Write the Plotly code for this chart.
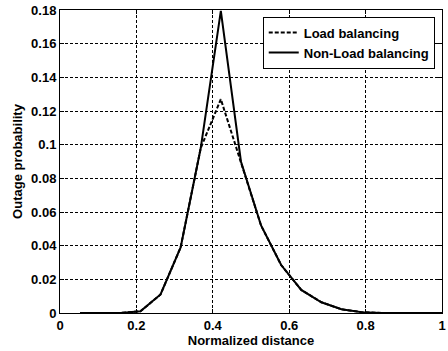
import plotly.graph_objects as go

# Data
x_vals = [i / 19 for i in range(1, 20)]
load_balancing = [0, 0, 0, 0.001, 0.011, 0.039, 0.098, 0.127, 0.090, 0.052,
                  0.0285, 0.0137, 0.0064, 0.0022, 0.0005, 0, 0, 0, 0]
non_load_balancing = [0, 0, 0, 0.001, 0.011, 0.039, 0.098, 0.1795, 0.090, 0.052,
                      0.0285, 0.0137, 0.0064, 0.0022, 0.0005, 0, 0, 0, 0]
x_ticks = [0, 0.2, 0.4, 0.6, 0.8, 1]
x_tick_labels = ["0", "0.2", "0.4", "0.6", "0.8", "1"]
y_ticks = [0, 0.02, 0.04, 0.06, 0.08, 0.1, 0.12, 0.14, 0.16, 0.18]
y_tick_labels = ["0", "0.02", "0.04", "0.06", "0.08", "0.1", "0.12", "0.14", "0.16", "0.18"]

FONT = "Liberation Sans, Arial, sans-serif"
FS = 13

fig = go.Figure()
fig.add_trace(go.Scatter(x=x_vals, y=load_balancing, mode="lines",
                         name="<b>Load balancing</b>",
                         line=dict(color="black", width=2, dash="4px,2px")))
fig.add_trace(go.Scatter(x=x_vals, y=non_load_balancing, mode="lines",
                         name="<b>Non-Load balancing</b>",
                         line=dict(color="black", width=2)))

axis_common = dict(
    showline=True, linecolor="black", linewidth=1, mirror="ticks",
    ticks="inside", ticklen=4, tickcolor="black",
    showgrid=True, gridcolor="black", gridwidth=1, griddash="3px,2px",
    zeroline=False, automargin=False,
    tickfont=dict(family=FONT, size=FS, color="black", weight="bold"),
)

fig.update_xaxes(range=[0, 1], tickvals=x_ticks, ticktext=x_tick_labels,
                 title=dict(text="<b>Normalized distance</b>", standoff=1,
                            font=dict(family=FONT, size=FS, color="black")),
                 **axis_common)
fig.update_yaxes(range=[0, 0.18], tickvals=y_ticks, ticktext=y_tick_labels,
                 title=dict(text="<b>Outage probability</b>", standoff=5,
                            font=dict(family=FONT, size=FS, color="black")),
                 **axis_common)

fig.update_layout(
    width=448, height=351,
    margin=dict(l=60, r=6, t=10, b=38, autoexpand=False),
    paper_bgcolor="white", plot_bgcolor="white",
    font=dict(family=FONT, size=FS, color="black"),
    legend=dict(x=0.981, y=0.978, xanchor="right", yanchor="top",
                bgcolor="white", bordercolor="black", borderwidth=1,
                font=dict(family=FONT, size=FS, color="black"),
                tracegroupgap=0),
    showlegend=True,
)

fig.write_html("out.html", config={"displayModeBar": False},
               post_script="document.body.style.margin='0';")
